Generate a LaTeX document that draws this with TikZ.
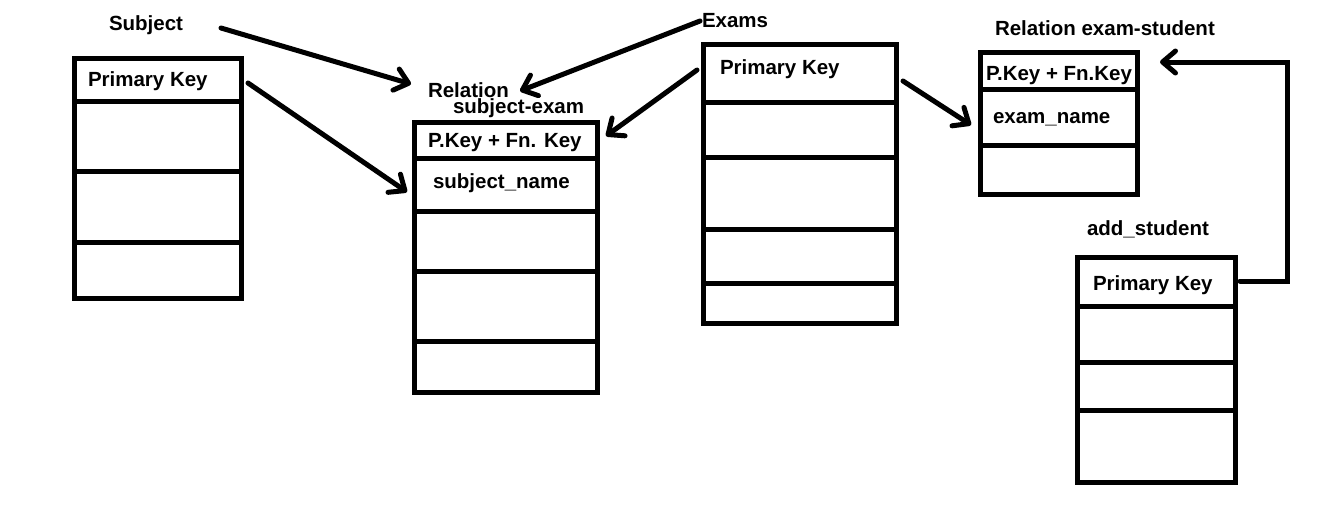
\documentclass[tikz,border=0pt]{standalone}
\usepackage{fontspec}
\setmainfont{Liberation Sans}
\usetikzlibrary{arrows.meta}
\begin{document}
\begin{tikzpicture}[x=1pt,y=-1pt,
  lbl/.style={anchor=base west, inner sep=0pt, outer sep=0pt, font=\fontsize{20.5}{24}\selectfont\bfseries},
  rowbox/.style={draw=black, line width=5pt, inner sep=0pt, outer sep=0pt, anchor=north west, line join=miter},
  arr/.style={draw=black, line width=5pt, line cap=round, line join=miter, -{Straight Barb[length=13pt,width=22pt,round]}}
]
\useasboundingbox[fill=white] (0,0) rectangle (1329,504);

% Subject table
\foreach \a/\b [count=\i] in {58/101,101/171,171/242,242/298}
  \node[rowbox, minimum width=166.5, minimum height={\b-\a}] (subj\i) at (74.5,\a) {};
% Relation subject-exam table
\foreach \a/\b [count=\i] in {122/158,158/211,211/271,271/341,341/392}
  \node[rowbox, minimum width=183, minimum height={\b-\a}] (se\i) at (414,\a) {};
% Exams table
\foreach \a/\b [count=\i] in {44/102,102/157,157/229,229/283,283/323}
  \node[rowbox, minimum width=193, minimum height={\b-\a}] (ex\i) at (703,\a) {};
% Relation exam-student table
\foreach \a/\b [count=\i] in {52/89,89/145,145/194}
  \node[rowbox, minimum width=157, minimum height={\b-\a}] (es\i) at (980,\a) {};
% add_student table
\foreach \a/\b [count=\i] in {257/306,306/362,362/410,410/482}
  \node[rowbox, minimum width=158, minimum height={\b-\a}] (as\i) at (1077,\a) {};

% Labels
\node[lbl] (tSubject) at (109,30) {Subject};
\node[lbl] (tSubjPK) at (88,86) {Primary Key};
\node[lbl] (tRel1) at (428,97) {Relation};
\node[lbl] (tRel2) at (453,113) {subject-exam};
\node[lbl] (tSePK) at (428,147) {P.Key + Fn. Key};
\node[lbl] (tSeName) at (433,188) {subject\_name};
\node[lbl] (tExams) at (702,27) {Exams};
\node[lbl] (tExPK) at (720,74) {Primary Key};
\node[lbl] (tEsTitle) at (995,35) {Relation exam-student};
\node[lbl] (tEsPK) at (986,80) {P.Key + Fn.Key};
\node[lbl] (tEsName) at (993,123) {exam\_name};
\node[lbl] (tAsTitle) at (1087,235) {add\_student};
\node[lbl] (tAsPK) at (1093,290) {Primary Key};

% Connector end points
\coordinate (a1s) at (221,28);  \coordinate (a1e) at (411,84);
\coordinate (a2s) at (700,21);  \coordinate (a2e) at (520,91);
\coordinate (a3s) at (697,70);  \coordinate (a3e) at (606,136);
\coordinate (a4s) at (248,83);  \coordinate (a4e) at (407,192);
\coordinate (a5s) at (903,81);  \coordinate (a5e) at (971,125);
\coordinate (a6s) at (1240,281); \coordinate (a6c) at (1287,62); \coordinate (a6e) at (1160,62);

% Connectors
\draw[arr] (a1s) -- (a1e);
\draw[arr] (a2s) -- (a2e);
\draw[arr] (a3s) -- (a3e);
\draw[arr] (a4s) -- (a4e);
\draw[arr] (a5s) -- (a5e);
\draw[arr] (a6s) -| (a6c) -- (a6e);
\end{tikzpicture}
\end{document}
